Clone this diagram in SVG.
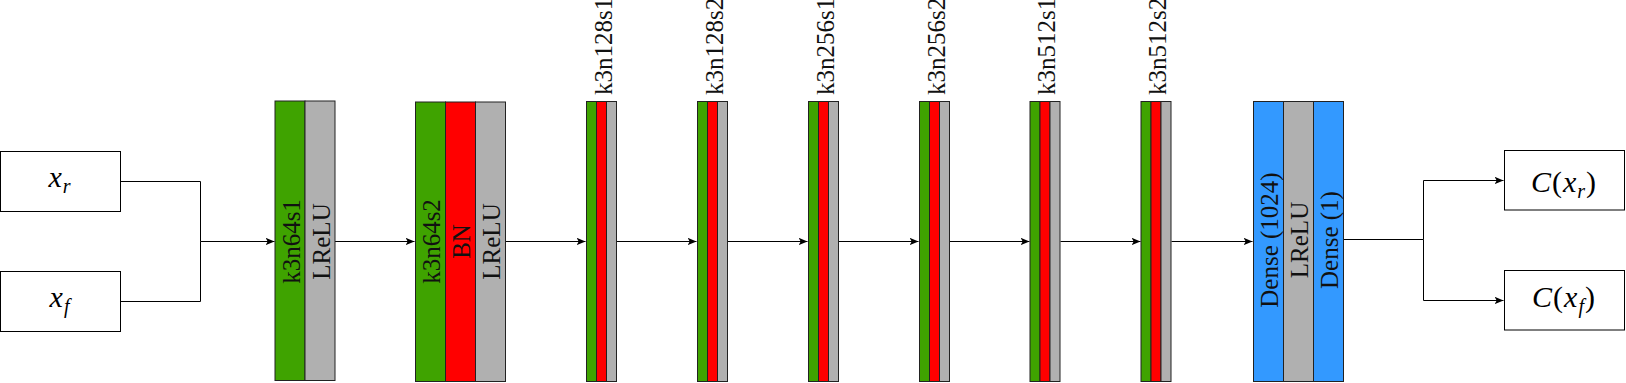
<svg xmlns="http://www.w3.org/2000/svg" width="1626" height="383" viewBox="0 0 1626 383">
<style>
.box{fill:#fff;stroke:#000;stroke-width:1}
.g{fill:#3fa300;stroke:#222;stroke-width:1}
.r{fill:#ff0000;stroke:#222;stroke-width:1}
.y{fill:#b0b0b0;stroke:#222;stroke-width:1}
.b{fill:#3399ff;stroke:#222;stroke-width:1}
.t{font-family:"Liberation Serif","Times New Roman",serif;font-size:25px;fill:#111}
.m{font-family:"Liberation Serif","Times New Roman",serif;font-size:30px;font-style:italic;fill:#000;letter-spacing:1px}
.mu{font-style:normal}
.sub{font-size:20px}
.c{fill:none;stroke:#000;stroke-width:1}
</style>
<defs>
<marker id="arr" markerUnits="userSpaceOnUse" markerWidth="10" markerHeight="8" refX="9" refY="4" orient="auto">
<path d="M0,0.2 L9,4 L0,7.8 L2.2,4 Z" fill="#000"/>
</marker>
</defs>

<g id="connectors">
<path class="c" d="M120.5,181.5 H200.5 V241.5 H274.5" marker-end="url(#arr)"/>
<path class="c" d="M120.5,301.5 H200.5 V241.5"/>
<path class="c" d="M335,241.5 H414.5" marker-end="url(#arr)"/>
<path class="c" d="M505.5,241.5 H585.5" marker-end="url(#arr)"/>
<path class="c" d="M616.5,241.5 H696.5" marker-end="url(#arr)"/>
<path class="c" d="M727.5,241.5 H807.5" marker-end="url(#arr)"/>
<path class="c" d="M838.5,241.5 H918.5" marker-end="url(#arr)"/>
<path class="c" d="M949.5,241.5 H1029.5" marker-end="url(#arr)"/>
<path class="c" d="M1060.5,241.5 H1140.5" marker-end="url(#arr)"/>
<path class="c" d="M1171.5,241.5 H1252.5" marker-end="url(#arr)"/>
<path class="c" d="M1343.5,239.5 H1423.5 V180.5 H1503.5" marker-end="url(#arr)"/>
<path class="c" d="M1423.5,239.5 V300.5 H1503.5" marker-end="url(#arr)"/>
</g>

<g id="input-xr">
<rect class="box" x="0.5" y="151.5" width="120" height="60"/>
<text class="m" x="60" y="187" text-anchor="middle">x<tspan class="sub" dy="6">r</tspan></text>
</g>
<g id="input-xf">
<rect class="box" x="0.5" y="271.5" width="120" height="60"/>
<text class="m" x="60" y="307" text-anchor="middle">x<tspan class="sub" dy="6">f</tspan></text>
</g>

<g id="block1">
<rect class="g" x="275" y="101" width="30" height="279.5"/>
<rect class="y" x="305" y="101" width="30" height="279.5"/>
<text class="t" transform="translate(299.5,241.5) rotate(-90)" text-anchor="middle">k3n64s1</text>
<text class="t" transform="translate(329.5,241.5) rotate(-90)" text-anchor="middle">LReLU</text>
</g>

<g id="block2">
<rect class="g" x="415.5" y="102" width="30" height="279.5"/>
<rect class="r" x="445.5" y="102" width="30" height="279.5"/>
<rect class="y" x="475.5" y="102" width="30" height="279.5"/>
<text class="t" transform="translate(440,241.5) rotate(-90)" text-anchor="middle">k3n64s2</text>
<text class="t" transform="translate(469.5,241.5) rotate(-90)" text-anchor="middle">BN</text>
<text class="t" transform="translate(499.5,241.5) rotate(-90)" text-anchor="middle">LReLU</text>
</g>

<g id="block3">
<rect class="g" x="586.5" y="101.5" width="10" height="280"/>
<rect class="r" x="596.5" y="101.5" width="10" height="280"/>
<rect class="y" x="606.5" y="101.5" width="10" height="280"/>
<text class="t" transform="translate(611.5,95) rotate(-90)">k3n128s1</text>
</g>
<g id="block4">
<rect class="g" x="697.5" y="101.5" width="10" height="280"/>
<rect class="r" x="707.5" y="101.5" width="10" height="280"/>
<rect class="y" x="717.5" y="101.5" width="10" height="280"/>
<text class="t" transform="translate(722.5,95) rotate(-90)">k3n128s2</text>
</g>
<g id="block5">
<rect class="g" x="808.5" y="101.5" width="10" height="280"/>
<rect class="r" x="818.5" y="101.5" width="10" height="280"/>
<rect class="y" x="828.5" y="101.5" width="10" height="280"/>
<text class="t" transform="translate(833.5,95) rotate(-90)">k3n256s1</text>
</g>
<g id="block6">
<rect class="g" x="919.5" y="101.5" width="10" height="280"/>
<rect class="r" x="929.5" y="101.5" width="10" height="280"/>
<rect class="y" x="939.5" y="101.5" width="10" height="280"/>
<text class="t" transform="translate(944.5,95) rotate(-90)">k3n256s2</text>
</g>
<g id="block7">
<rect class="g" x="1030" y="101.5" width="10" height="280"/>
<rect class="r" x="1040" y="101.5" width="10" height="280"/>
<rect class="y" x="1050" y="101.5" width="10" height="280"/>
<text class="t" transform="translate(1055,95) rotate(-90)">k3n512s1</text>
</g>
<g id="block8">
<rect class="g" x="1141" y="101.5" width="10" height="280"/>
<rect class="r" x="1151" y="101.5" width="10" height="280"/>
<rect class="y" x="1161" y="101.5" width="10" height="280"/>
<text class="t" transform="translate(1166,95) rotate(-90)">k3n512s2</text>
</g>

<g id="dense-block">
<rect class="b" x="1253.5" y="101.5" width="30" height="280"/>
<rect class="y" x="1283.5" y="101.5" width="30" height="280"/>
<rect class="b" x="1313.5" y="101.5" width="30" height="280"/>
<text class="t" transform="translate(1277.5,240) rotate(-90)" text-anchor="middle">Dense (1024)</text>
<text class="t" transform="translate(1307.5,240) rotate(-90)" text-anchor="middle">LReLU</text>
<text class="t" transform="translate(1337.5,240) rotate(-90)" text-anchor="middle">Dense (1)</text>
</g>

<g id="output-cxr">
<rect class="box" x="1504.5" y="150.5" width="120" height="59.5"/>
<text class="m" x="1564" y="192" text-anchor="middle">C<tspan class="mu">(</tspan>x<tspan class="sub" dy="6">r</tspan><tspan class="mu" dy="-6">)</tspan></text>
</g>
<g id="output-cxf">
<rect class="box" x="1504.5" y="270.5" width="120" height="59.5"/>
<text class="m" x="1564" y="307" text-anchor="middle">C<tspan class="mu">(</tspan>x<tspan class="sub" dy="6">f</tspan><tspan class="mu" dy="-6">)</tspan></text>
</g>
</svg>
